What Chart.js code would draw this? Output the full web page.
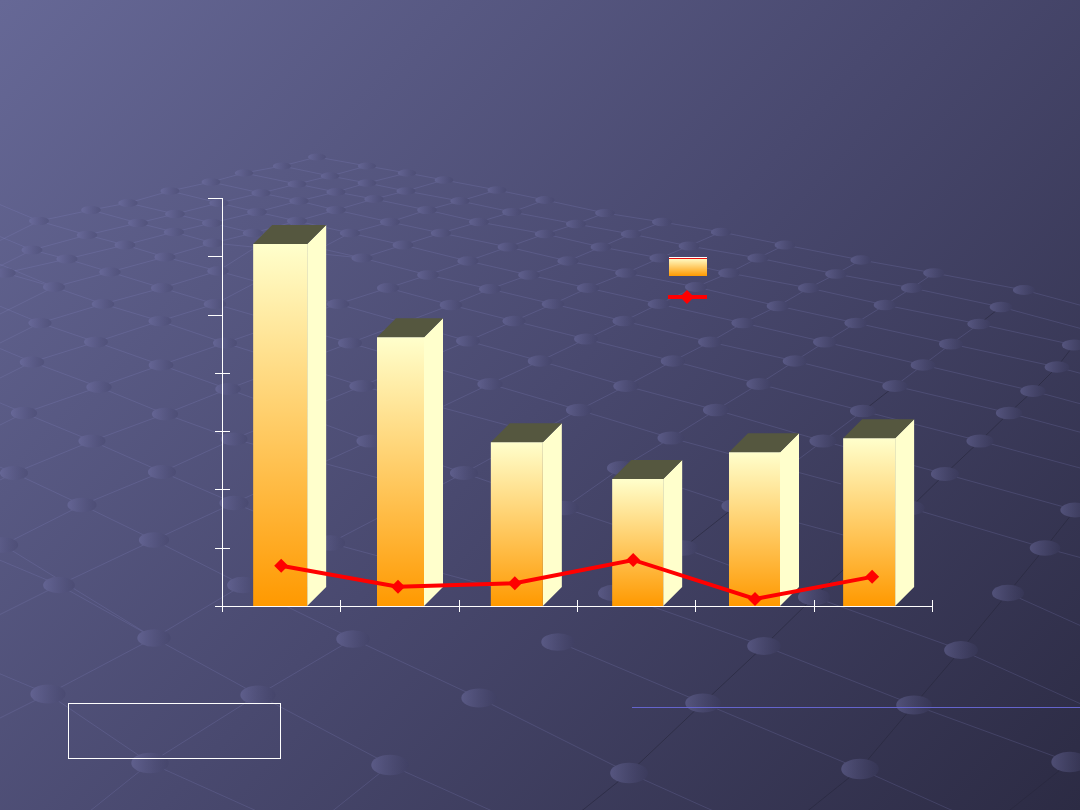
<!DOCTYPE html>
<html>
<head>
<meta charset="utf-8">
<title>Chart</title>
<script src="https://cdn.jsdelivr.net/npm/chart.js@4/dist/chart.umd.min.js"></script>
<style>
    html, body { margin: 0; padding: 0; background: #4b4b74; }
    canvas { display: block; }
</style>
</head>
<body>
<canvas id="myChart" width="1080" height="810"></canvas>
<script>
const categories = ['1', '2', '3', '4', '5', '6'];
const barValues = [6.21, 4.61, 2.81, 2.18, 2.64, 2.88];
const lineValues = [0.69, 0.33, 0.39, 0.79, 0.12, 0.50];
const yTicks = [0, 1, 2, 3, 4, 5, 6, 7];

// bars in the picture are not evenly sized or spaced, so nudge them a little off the category centre
const barWidths = [54, 47, 52, 51, 51, 52];
const barNudge = [-1, 1, -1, 1.5, 0, -3.7];
const lineNudge = [0, -1.5, -3, -3, 0.5, -0.7];
const depth = 19;

// backdrop decoration: dots of the perspective net
const netDots = [
    [317,157],[282,166],[367,166],[244,173],[330,176],[407,173],[211,182],[297,184],[367,183],[444,180],
    [170,191],[261,193],[336,192],[406,191],[497,190],[128,203],[219,203],[299,201],[374,199],[460,201],
    [545,200],[91,210],[175,214],[257,212],[336,210],[427,210],[512,212],[39,221],[138,223],[212,223],
    [297,221],[390,222],[479,222],[87,235],[174,232],[253,233],[350,233],[441,233],[545,234],[32,250],
    [125,245],[213,243],[403,245],[508,247],[67,259],[165,257],[362,258],[468,261],[110,272],[218,271],
    [5,273],[428,275],[529,275],[54,287],[162,288],[388,288],[490,289],[103,304],[215,304],[338,304],
    [451,305],[40,323],[160,321],[514,321],[96,342],[225,343],[350,343],[468,341],[32,362],[161,365],
    [605,213],[576,224],[662,222],[631,234],[721,232],[601,247],[689,246],[785,245],[568,261],[660,258],
    [758,258],[861,260],[626,273],[729,273],[836,274],[934,273],[588,288],[696,287],[809,288],[912,288],
    [1024,290],[553,304],[659,304],[778,306],[885,305],[1001,307],[624,321],[743,323],[856,323],[979,324],
    [586,339],[710,342],[825,342],[951,344],[1074,345],[673,361],[795,361],[923,365],[1057,367],[540,361],
    [99,387],[228,389],[362,386],[490,384],[24,413],[165,414],[92,441],[234,439],[370,441],[14,473],
    [162,472],[464,473],[82,505],[234,503],[154,540],[330,543],[3,545],[59,585],[243,585],[626,386],
    [759,384],[895,386],[1033,391],[579,410],[716,410],[863,411],[1009,413],[671,438],[823,441],[980,441],
    [621,468],[945,474],[564,508],[736,506],[910,508],[1075,510],[683,548],[1045,548],[1008,593],[614,593],
    [814,597],[154,638],[353,639],[558,642],[764,646],[961,650],[48,694],[258,695],[479,698],[703,703],
    [914,705],[150,763],[390,765],[629,773],[860,769],[1070,762]
];

const NET_LIGHT = 'rgba(140,140,205,0.2)';
const NET_DARK = 'rgba(40,40,62,0.65)';

function netStroke(ctx, x1, y1, x2, y2, color) {
    ctx.strokeStyle = color;
    ctx.lineWidth = 1;
    ctx.beginPath();
    ctx.moveTo(x1, y1);
    ctx.lineTo(x2, y2);
    ctx.stroke();
}

function drawBackdrop(ctx, w, h) {
    const bg = ctx.createLinearGradient(0, 0, 977, 919);
    bg.addColorStop(0, '#666896');
    bg.addColorStop(0.5, '#49496f');
    bg.addColorStop(1, '#2c2b44');
    ctx.fillStyle = bg;
    ctx.fillRect(0, 0, w, h);

    // join every dot to its nearest neighbour along both directions of the net
    const joinTo = (p, minSlope, maxSlope) => {
        let best = null, bestDist = 210;
        netDots.forEach(q => {
            const dx = q[0] - p[0], dy = q[1] - p[1];
            if (dx <= 0) return;
            const slope = dy / dx;
            const dist = Math.hypot(dx, dy);
            if (slope > minSlope && slope < maxSlope && dist < bestDist) { best = q; bestDist = dist; }
        });
        if (!best) return false;
        const steep = (best[1] - p[1]) / (best[0] - p[0]) < -0.75;
        netStroke(ctx, p[0], p[1], best[0], best[1], steep ? NET_DARK : NET_LIGHT);
        return true;
    };
    netDots.forEach(p => {
        const down = joinTo(p, 0.1, p[1] < 400 ? 0.42 : 0.7);
        joinTo(p, p[0] > 560 && p[1] > 320 ? -1.4 : -0.7, -0.15);
        // lines run on to the slide edges
        if (!down) {
            const slope = p[1] > 550 ? 0.45 : 0.27;
            netStroke(ctx, p[0], p[1], p[0] + 170, p[1] + 170 * slope, NET_LIGHT);
        }
        if (p[0] < 60) {
            netStroke(ctx, p[0], p[1], p[0] - 60, p[1] - 60 * 0.42, NET_LIGHT);
            netStroke(ctx, p[0], p[1], p[0] - 60, p[1] + 60 * 0.5, NET_LIGHT);
        }
        if (p[1] > 750) {
            netStroke(ctx, p[0], p[1], p[0] - 70, p[1] + 70 * 0.8, p[0] > 560 ? NET_DARK : NET_LIGHT);
        }
    });

    netDots.forEach(p => {
        const rx = 9 + (p[1] - 157) * 0.016;
        const ry = 3.5 + (p[1] - 157) * 0.011;
        const g = ctx.createLinearGradient(p[0] - rx, p[1], p[0] + rx, p[1]);
        g.addColorStop(0, 'rgba(122,122,178,0.42)');
        g.addColorStop(1, 'rgba(62,62,100,0.3)');
        ctx.beginPath();
        ctx.ellipse(p[0], p[1], rx, ry, 0, 0, Math.PI * 2);
        // cover the net lines first, the dots are opaque in the original
        ctx.fillStyle = bg;
        ctx.fill();
        ctx.fillStyle = g;
        ctx.fill();
    });

    ctx.strokeStyle = '#ffffff';
    ctx.lineWidth = 1;
    ctx.strokeRect(68.5, 703.5, 212, 55);
    netStroke(ctx, 632, 707.5, 1080, 707.5, '#6464cc');
}

function barGradient(context) {
    const chart = context.chart;
    const yScale = chart.scales.y;
    if (context.dataIndex === undefined || !yScale) return '#ff9900';
    const top = yScale.getPixelForValue(barValues[context.dataIndex]);
    const bottom = yScale.getPixelForValue(0);
    if (!isFinite(top) || !isFinite(bottom)) return '#ff9900';
    const g = chart.ctx.createLinearGradient(0, top, 0, bottom);
    g.addColorStop(0, '#ffffcc');
    g.addColorStop(1, '#ff9900');
    return g;
}

const slidePlugin = {
    id: 'slide',
    beforeDraw(chart) {
        drawBackdrop(chart.ctx, chart.width, chart.height);
    },
    afterDatasetsUpdate(chart) {
        chart.getDatasetMeta(0).data.forEach((bar, i) => {
            bar.width = barWidths[i];
            bar.x += barNudge[i];
        });
        chart.getDatasetMeta(1).data.forEach((pt, i) => { pt.x += lineNudge[i]; });
    },
    beforeDatasetsDraw(chart) {
        const ctx = chart.ctx;
        const { x: xScale, y: yScale } = chart.scales;
        const base = yScale.getPixelForValue(0);

        // tick marks cross the axes, the library only draws them on one side
        ctx.strokeStyle = '#ffffff';
        ctx.lineWidth = 1;
        yScale.ticks.forEach((t, i) => {
            const y = Math.round(yScale.getPixelForTick(i)) + 0.5;
            const upper = t.value >= 5;
            ctx.beginPath();
            ctx.moveTo(upper ? 208 : 215, y);
            ctx.lineTo(upper ? 222 : 230, y);
            ctx.stroke();
        });
        const step = xScale.width / categories.length;
        categories.forEach((c, i) => {
            const x = Math.round(xScale.left + step * (i + 1)) + 0.5;
            ctx.beginPath();
            ctx.moveTo(x, 600);
            ctx.lineTo(x, 612);
            ctx.stroke();
        });
        ctx.beginPath();
        ctx.moveTo(222.5, 606);
        ctx.lineTo(222.5, 612);
        ctx.stroke();

        // side and top faces of the bars
        chart.getDatasetMeta(0).data.forEach(bar => {
            const l = bar.x - bar.width / 2, r = bar.x + bar.width / 2, t = bar.y;
            ctx.fillStyle = '#ffffcc';
            ctx.beginPath();
            ctx.moveTo(r, base);
            ctx.lineTo(r + depth, base - depth);
            ctx.lineTo(r + depth, t - depth);
            ctx.lineTo(r, t);
            ctx.closePath();
            ctx.fill();
            ctx.fillStyle = '#55573f';
            ctx.beginPath();
            ctx.moveTo(l, t);
            ctx.lineTo(l + depth, t - depth);
            ctx.lineTo(r + depth, t - depth);
            ctx.lineTo(r, t);
            ctx.closePath();
            ctx.fill();
        });
    },
    afterDraw(chart) {
        // legend swatches, the original has no legend text
        const ctx = chart.ctx;
        const g = ctx.createLinearGradient(0, 258, 0, 276);
        g.addColorStop(0, '#ffffcc');
        g.addColorStop(1, '#ff9900');
        ctx.fillStyle = g;
        ctx.fillRect(669, 257, 38, 19);
        ctx.fillStyle = '#ffffff';
        ctx.fillRect(669, 257, 38, 1);
        ctx.fillStyle = '#e81010';
        ctx.fillRect(669, 258, 38, 1);
        ctx.fillStyle = '#ff0000';
        ctx.fillRect(668, 295, 39, 4);
        ctx.beginPath();
        ctx.moveTo(687, 290);
        ctx.lineTo(694, 297);
        ctx.lineTo(687, 304);
        ctx.lineTo(680, 297);
        ctx.closePath();
        ctx.fill();
    }
};

new Chart(document.getElementById('myChart'), {
    data: {
        labels: categories,
        datasets: [
            {
                type: 'bar',
                data: barValues,
                backgroundColor: barGradient,
                borderWidth: 0,
                order: 2
            },
            {
                type: 'line',
                data: lineValues,
                borderColor: '#ff0000',
                borderWidth: 4,
                tension: 0,
                pointStyle: 'rectRot',
                pointRadius: 7,
                pointBackgroundColor: '#ff0000',
                pointBorderColor: '#ff0000',
                pointBorderWidth: 0,
                order: 1
            }
        ]
    },
    options: {
        responsive: false,
        animation: false,
        layout: { padding: { left: 222, right: 148, top: 198, bottom: 204 } },
        plugins: { legend: { display: false }, tooltip: { enabled: false } },
        scales: {
            x: {
                grid: { display: false, drawTicks: false },
                border: { color: '#ffffff', width: 1 },
                ticks: { display: false }
            },
            y: {
                min: yTicks[0],
                max: yTicks[yTicks.length - 1],
                grid: { display: false, drawTicks: false },
                border: { color: '#ffffff', width: 1 },
                ticks: { display: false, stepSize: 1 },
                afterBuildTicks: axis => { axis.ticks = yTicks.map(v => ({ value: v })); }
            }
        }
    },
    plugins: [slidePlugin]
});
</script>
</body>
</html>
